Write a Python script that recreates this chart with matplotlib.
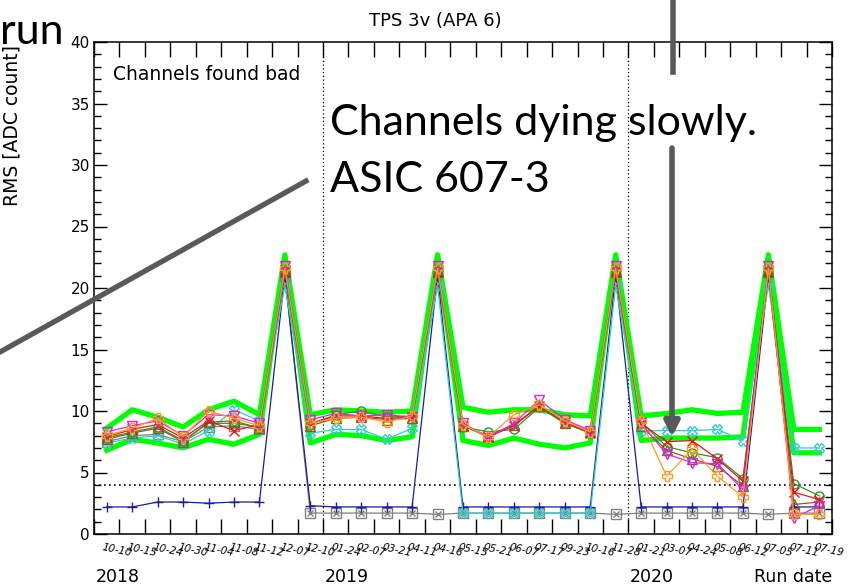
import matplotlib
matplotlib.use('Agg')
import matplotlib.pyplot as plt
import matplotlib.transforms as mtransforms
from matplotlib.lines import Line2D
from matplotlib.ticker import MultipleLocator
import numpy as np

# one bin per run, labelled MM-DD
run_dates = ["10-10", "10-15", "10-24", "10-30", "11-04", "11-08", "11-12", "12-07", "12-10",
             "01-24", "02-07", "03-21", "04-11", "04-16", "05-15", "05-21", "06-07", "07-17",
             "09-23", "10-16", "11-28",
             "01-21", "03-07", "04-24", "05-08", "06-12", "07-05", "07-11", "07-19"]
year_names = ["2018", "2019", "2020"]
year_first_bin = [0, 9, 21]

# green envelope (upper / lower)
band_hi = [8.6, 10.1, 9.5, 8.7, 10.1, 10.8, 9.7, 22.7,
           9.7, 10.1, 10.0, 9.9, 10.0, 22.7,
           10.3, 9.9, 10.1, 10.1, 9.7, 9.6, 22.7,
           9.6, 9.8, 10.1, 9.8, 9.9, 22.7, 8.5, 8.5]
band_lo = [6.8, 7.7, 7.4, 7.0, 7.7, 7.3, 8.1, 22.5,
           7.4, 8.1, 8.0, 7.6, 7.9, 22.5,
           7.6, 7.2, 7.8, 7.3, 7.0, 7.4, 22.5,
           7.6, 7.8, 7.8, 7.8, 7.9, 22.5, 6.6, 6.6]

# channels
rms_grey = [7.5, 8.0, 8.1, 7.5, 8.7, 8.8, 8.5, 21.0,
            1.7, 1.7, 1.7, 1.7, 1.7, 1.6,
            1.7, 1.7, 1.7, 1.7, 1.7, 1.7, 1.6,
            1.7, 1.7, 1.7, 1.7, 1.7, 1.6, 1.7, 1.7]
rms_navy = [2.2, 2.2, 2.6, 2.6, 2.5, 2.6, 2.6, 21.0,
            2.3, 2.2, 2.2, 2.2, 2.2, 21.0,
            2.2, 2.2, 2.2, 2.2, 2.2, 2.2, 21.0,
            2.2, 2.2, 2.2, 2.2, 2.2, 21.0, 2.2, 2.2]
rms_cyan = [7.4, 7.8, 8.0, 7.3, 8.4, 10.1, 9.2, 20.2,
            8.2, 8.5, 8.5, 7.7, 8.6, 20.2,
            1.7, 1.7, 1.7, 1.7, 1.7, 1.7, 20.2,
            8.4, 8.4, 8.4, 8.5, 7.6, 20.2, 7.0, 7.0]
rms_brown = [7.7, 8.2, 8.6, 7.5, 9.1, 9.2, 8.6, 21.3,
             8.8, 9.4, 9.5, 9.3, 9.4, 21.3,
             8.8, 8.0, 8.9, 10.4, 9.0, 8.3, 21.3,
             8.8, 6.8, 6.1, 5.5, 3.9, 21.3, 2.4, 2.6]
rms_dkgreen = [7.8, 8.3, 8.7, 7.6, 9.0, 9.0, 8.7, 21.4,
               8.9, 9.7, 10.0, 9.5, 9.6, 21.4,
               8.7, 8.3, 8.5, 10.3, 9.0, 8.2, 21.4,
               9.1, 7.1, 6.6, 6.2, 4.5, 21.4, 4.1, 3.1]
rms_red = [7.9, 8.5, 8.9, 7.8, 9.2, 8.4, 8.9, 21.5,
           9.0, 9.6, 9.6, 9.4, 9.5, 21.5,
           8.8, 7.9, 8.8, 10.4, 9.1, 8.2, 21.5,
           9.0, 7.5, 7.6, 6.1, 4.3, 21.5, 3.4, 2.8]
rms_magenta = [8.3, 8.8, 9.2, 8.0, 9.7, 9.6, 9.0, 21.8,
               9.3, 9.8, 9.6, 9.7, 9.5, 21.8,
               9.0, 7.8, 9.0, 10.9, 9.3, 8.4, 21.8,
               9.0, 6.5, 5.8, 5.7, 3.6, 21.8, 1.3, 2.3]
rms_orange = [8.0, 8.6, 9.4, 7.9, 10.0, 9.4, 8.8, 21.6,
              9.0, 9.4, 9.5, 9.1, 9.6, 21.6,
              8.9, 7.9, 9.7, 10.5, 9.2, 8.3, 21.6,
              9.2, 4.7, 6.9, 4.7, 3.0, 21.6, 1.6, 1.6]

W, H = 860, 586
fig = plt.figure(figsize=(8.6, 5.86), dpi=100)
ax = fig.add_axes([94 / W, 1 - 534 / H, (832 - 94) / W, (534 - 42) / H])

x = np.arange(len(run_dates)) + 0.5

ax.plot(x, band_hi, color='#00ff00', lw=3.8, zorder=2)
ax.plot(x, band_lo, color='#00ff00', lw=3.8, zorder=2)

channels = [
    (rms_grey, '#808080', 's'),
    (rms_navy, '#1c1c9c', '+'),
    (rms_cyan, '#33cccc', 'X'),
    (rms_brown, '#8c5a2b', '^'),
    (rms_dkgreen, '#2a962a', 'o'),
    (rms_red, '#ee1111', 'x'),
    (rms_magenta, '#e020e0', 'v'),
    (rms_orange, '#ff9a1a', 'P'),
]
for vals, col, mk in channels:
    fill = 'none' if mk in ('s', 'X', '^', 'o', 'v', 'P') else 'full'
    ax.plot(x, vals, color=col, lw=0.9, marker=mk, ms=6.5, mew=1.0,
            fillstyle=fill, zorder=3)
    if mk == 's':
        ax.plot(x, vals, ls='none', color=col, marker='x', ms=4.5, mew=1.0, zorder=3)

# reference lines
ax.axhline(4, color='black', ls=(0, (1, 2)), lw=1.2, zorder=1)
for b in year_first_bin[1:]:
    ax.axvline(b, color='black', ls=(0, (1, 2)), lw=0.9, zorder=1)

ax.set_xlim(0, len(run_dates))
ax.set_ylim(0, 40)
ax.xaxis.set_major_locator(MultipleLocator(1))
ax.yaxis.set_major_locator(MultipleLocator(5))
ax.yaxis.set_minor_locator(MultipleLocator(1))
ax.tick_params(axis='x', which='major', direction='in', top=True, bottom=True,
               length=11, width=1, labelbottom=False)
ax.tick_params(axis='y', which='major', direction='in', left=True, right=True,
               length=9.5, width=1, labelsize=11, pad=3)
ax.tick_params(axis='y', which='minor', direction='in', left=True, right=True,
               length=5, width=1)
for s in ax.spines.values():
    s.set_linewidth(1.1)

trans = mtransforms.blended_transform_factory(ax.transData, ax.transAxes)
for i, lab in enumerate(run_dates):
    ax.text(i + 0.35, -0.016, lab, transform=trans, rotation=-12, rotation_mode='anchor',
            ha='left', va='top', fontsize=7.5, fontstyle='italic')
for name, b in zip(year_names, year_first_bin):
    ax.text(b + 0.05, -0.098, name, transform=trans, ha='left', va='baseline', fontsize=12.5)
ax.text(1.0, -0.098, 'Run date', transform=ax.transAxes, ha='right', va='baseline', fontsize=12.5)

fig.text(435 / W, 1 - 26 / H, 'TPS 3v (APA 6)', ha='center', va='baseline', fontsize=13)
fig.text(12 / W, 1 - 45 / H, 'RMS [ADC count]', rotation=90, ha='center', va='top', fontsize=13.5)
ax.text(0.026, 0.933, 'Channels found bad', transform=ax.transAxes, ha='left', va='center',
        fontsize=13.5)

# slide annotations on top of the plot
grey = '#595959'
fig.add_artist(Line2D([0, 306 / W], [1 - 352 / H, 1 - 181 / H], transform=fig.transFigure,
                      color=grey, lw=3.8))
fig.add_artist(Line2D([673 / W, 673 / W], [1.0, 1 - 72 / H], transform=fig.transFigure,
                      color=grey, lw=4))
ax.annotate('', xy=(672, H - 437), xytext=(672, H - 148), xycoords='figure pixels',
            textcoords='figure pixels', annotation_clip=False,
            arrowprops=dict(arrowstyle='-|>', lw=4, color=grey, mutation_scale=22,
                            shrinkA=0, shrinkB=0))

fig.text(330 / W, 1 - 135 / H, 'Channels dying slowly.', family='Lato', fontsize=31,
         ha='left', va='baseline')
fig.text(330 / W, 1 - 192 / H, 'ASIC 607-3', family='Lato', fontsize=31,
         ha='left', va='baseline')
fig.text(0, 1 - 44 / H, 'run', family='Lato', fontsize=31, ha='left', va='baseline')

fig.savefig('out.png', dpi=100)
